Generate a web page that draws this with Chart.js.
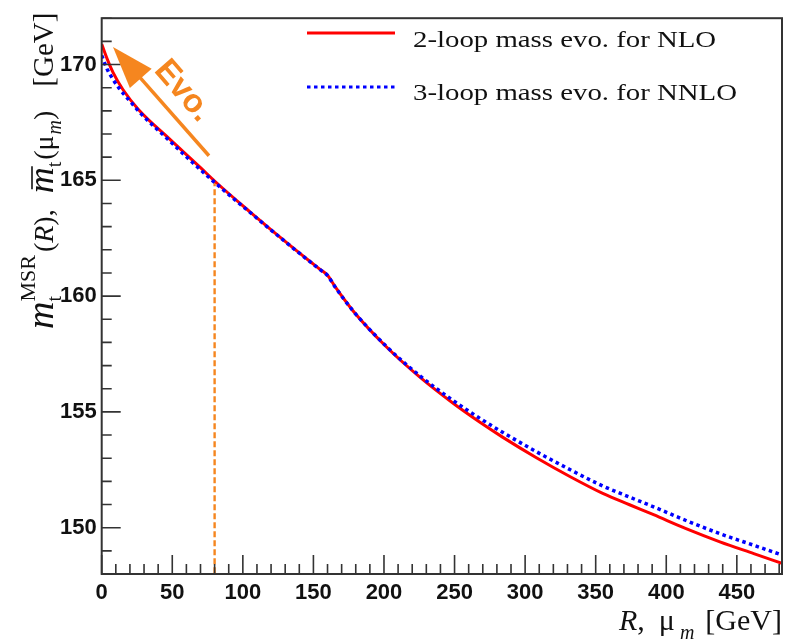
<!DOCTYPE html>
<html><head><meta charset="utf-8">
<script src="https://cdn.jsdelivr.net/npm/chart.js@4.4.1/dist/chart.umd.min.js"></script>
<style>html,body{margin:0;padding:0;background:#fff;} canvas{display:block;}</style>
</head><body>
<canvas id="c" width="788" height="644"></canvas>
<script>
// ---- data ----
const xNLO  = [0, 4, 8, 15, 26, 48, 70, 80, 105, 133, 150, 155, 160, 165, 178, 202, 225, 249, 268, 284, 308, 332, 355, 374, 391, 414, 438, 462, 482];
const yNLO  = [170.88, 170.22, 169.66, 168.92, 168.06, 166.79, 165.55, 164.97, 163.64, 162.21, 161.38, 161.14, 160.90, 160.44, 159.37, 157.79, 156.52, 155.37, 154.55, 153.91, 153.02, 152.20, 151.48, 150.99, 150.56, 149.96, 149.39, 148.88, 148.46];
const xNNLO = [0, 4, 8, 12, 21, 27, 48, 64, 80, 105, 133, 150, 155, 160, 165, 178, 202, 225, 249, 268, 284, 308, 332, 355, 374, 391, 414, 438, 462, 482];
const yNNLO = [170.39, 169.78, 169.36, 169.00, 168.35, 167.93, 166.71, 165.79, 164.91, 163.62, 162.20, 161.37, 161.13, 160.89, 160.43, 159.37, 157.81, 156.58, 155.49, 154.72, 154.12, 153.28, 152.50, 151.80, 151.32, 150.90, 150.31, 149.74, 149.24, 148.82];
const seriesLabels = ['2-loop mass evo. for NLO', '3-loop mass evo. for NNLO'];
const xTicks = [0, 50, 100, 150, 200, 250, 300, 350, 400, 450];
const yTicks = [150, 155, 160, 165, 170];
const xRange = [0, 482];
const yRange = [148, 172];
// annotation anchors (data units)
const markR = 80, markMass = 165;
const evoTail = [76, 166.06], evoTip = [8, 170.76], evoLabelAt = [57.5, 168.85];

const ORANGE = '#F5861F';
const RED = '#ff0000', BLUE = '#0000ff';

const overlay = {
  id: 'overlay',
  beforeDatasetsDraw(chart) {
    const {ctx, scales: {x, y}} = chart;
    ctx.save();
    ctx.strokeStyle = ORANGE; ctx.lineWidth = 2.4; ctx.setLineDash([6, 3]);
    ctx.beginPath();
    ctx.moveTo(x.getPixelForValue(markR), y.getPixelForValue(markMass));
    ctx.lineTo(x.getPixelForValue(markR), y.getPixelForValue(yRange[0]));
    ctx.stroke();
    ctx.restore();
  },
  afterDatasetsDraw(chart) {
    const {ctx, scales: {x, y}, chartArea: a} = chart;
    ctx.save();
    // frame
    ctx.strokeStyle = '#333'; ctx.lineWidth = 2;
    ctx.strokeRect(a.left, a.top, a.right - a.left, a.bottom - a.top);
    // ticks (inside)
    ctx.strokeStyle = '#333'; ctx.lineWidth = 1.6;
    ctx.beginPath();
    for (let v = xRange[0]; v <= xRange[1]; v += 10) {
      const px = x.getPixelForValue(v);
      const len = (v % 50 === 0) ? 19 : 10;
      ctx.moveTo(px, a.bottom); ctx.lineTo(px, a.bottom - len);
    }
    for (let v = yRange[0]; v <= yRange[1]; v += 1) {
      const py = y.getPixelForValue(v);
      const len = (v % 5 === 0) ? 19 : 10;
      ctx.moveTo(a.left, py); ctx.lineTo(a.left + len, py);
    }
    ctx.stroke();

    // Evo arrow
    const t0 = [x.getPixelForValue(evoTail[0]), y.getPixelForValue(evoTail[1])];
    const t1 = [x.getPixelForValue(evoTip[0]), y.getPixelForValue(evoTip[1])];
    const dx = t1[0] - t0[0], dy = t1[1] - t0[1], L = Math.hypot(dx, dy);
    const ux = dx / L, uy = dy / L, nx = -uy, ny = ux;
    const hl = 42, hw = 14.5;
    const bx = t1[0] - ux * hl, by = t1[1] - uy * hl;
    ctx.strokeStyle = ORANGE; ctx.fillStyle = ORANGE; ctx.lineWidth = 3.5; ctx.setLineDash([]);
    ctx.beginPath(); ctx.moveTo(t0[0], t0[1]); ctx.lineTo(bx + ux * 2, by + uy * 2); ctx.stroke();
    ctx.beginPath();
    ctx.moveTo(t1[0], t1[1]);
    ctx.lineTo(bx + nx * hw, by + ny * hw);
    ctx.lineTo(bx - nx * hw, by - ny * hw);
    ctx.closePath(); ctx.fill();
    // Evo. text
    ctx.save();
    ctx.translate(x.getPixelForValue(evoLabelAt[0]), y.getPixelForValue(evoLabelAt[1]));
    ctx.rotate(49 * Math.PI / 180);
    ctx.font = 'bold 33px "Liberation Sans", Arial, sans-serif';
    ctx.textAlign = 'center'; ctx.textBaseline = 'middle';
    ctx.fillText('Evo.', 0, 0);
    ctx.restore();
    ctx.restore();
  },
  afterDraw(chart) {
    const {ctx} = chart;
    const ds = chart.data.datasets;
    ctx.save();
    // legend
    const rows = [{y: 33, base: 47}, {y: 87, base: 100}];
    ds.forEach((d, i) => {
      ctx.strokeStyle = d.borderColor; ctx.lineWidth = 3;
      ctx.setLineDash(d.borderDash || []);
      ctx.beginPath(); ctx.moveTo(307, rows[i].y); ctx.lineTo(395, rows[i].y); ctx.stroke();
      ctx.setLineDash([]);
      ctx.fillStyle = '#111';
      ctx.font = '24px "Liberation Serif", "Times New Roman", serif';
      ctx.textBaseline = 'alphabetic'; ctx.textAlign = 'left';
      ctx.save();
      ctx.translate(413, rows[i].base);
      ctx.scale(1.2, 1);
      ctx.fillText(d.label, 0, 0);
      ctx.restore();
    });

    // rich text helper (u along baseline)
    function rich(pieces) {
      let u = 0;
      for (const p of pieces) {
        ctx.font = p.font;
        if (p.t) ctx.fillText(p.t, u, p.dv || 0);
        const w = p.w !== undefined ? p.w : ctx.measureText(p.t).width;
        if (p.bar) {
          ctx.lineWidth = 1.6;
          ctx.beginPath(); ctx.moveTo(u + 4, p.bar); ctx.lineTo(u + w + 1, p.bar); ctx.stroke();
        }
        u += w + (p.gap || 0);
      }
      return u;
    }
    const SER = '"Liberation Serif", "Times New Roman", serif';
    ctx.fillStyle = '#111'; ctx.strokeStyle = '#111';
    ctx.textAlign = 'left'; ctx.textBaseline = 'alphabetic';

    // y title, rotated
    ctx.save();
    ctx.translate(53, 329);
    ctx.rotate(-Math.PI / 2);
    rich([
      {t: 'm', font: 'italic 38px ' + SER, gap: 0},
      {t: 't', font: '20px ' + SER, dv: 8, w: 0},
      {t: 'MSR', font: '22px ' + SER, dv: -18, gap: 3},
      {t: '(', font: '28px ' + SER},
      {t: 'R', font: 'italic 28px ' + SER},
      {t: '),', font: '28px ' + SER, gap: 16},
      {t: 'm', font: 'italic 36px ' + SER, bar: -21},
      {t: 't', font: '20px ' + SER, dv: 8, gap: 2},
      {t: '(', font: '28px ' + SER},
      {t: 'μ', font: '28px ' + SER, gap: 1},
      {t: 'm', font: 'italic 20px ' + SER, dv: 8},
      {t: ')', font: '28px ' + SER, gap: 24},
      {t: '[GeV]', font: '29px ' + SER}
    ]);
    ctx.restore();

    // x title, right aligned
    ctx.save();
    const xp = [
      {t: 'R', font: 'italic 30px ' + SER},
      {t: ',', font: '30px ' + SER, gap: 14},
      {t: 'μ', font: '30px ' + SER, gap: 5},
      {t: 'm', font: 'italic 20px ' + SER, dv: 9, gap: 11},
      {t: '[GeV]', font: '30px ' + SER}
    ];
    let tw = 0;
    for (const p of xp) { ctx.font = p.font; tw += ctx.measureText(p.t).width + (p.gap || 0); }
    ctx.translate(782 - tw, 630);
    rich(xp);
    ctx.restore();
    ctx.restore();
  }
};

const tickFont = {family: '"Liberation Sans", Arial, sans-serif', weight: 'bold', size: 22};

new Chart(document.getElementById('c'), {
  type: 'line',
  data: {
    datasets: [
      {label: seriesLabels[0], data: xNLO.map((v, i) => ({x: v, y: yNLO[i]})),
       borderColor: RED, borderWidth: 3, pointRadius: 0, cubicInterpolationMode: 'monotone', order: 2, fill: false},
      {label: seriesLabels[1], data: xNNLO.map((v, i) => ({x: v, y: yNNLO[i]})),
       borderColor: BLUE, borderWidth: 3.5, borderDash: [3.5, 3.5], borderCapStyle: 'butt', pointRadius: 0,
       cubicInterpolationMode: 'monotone', order: 1, fill: false}
    ]
  },
  options: {
    responsive: false, animation: false, devicePixelRatio: 1,
    layout: {padding: {left: 0, top: 7, right: 6, bottom: 0}},
    plugins: {legend: {display: false}, tooltip: {enabled: false}},
    scales: {
      x: {type: 'linear', min: xRange[0], max: xRange[1],
          afterBuildTicks: s => { s.ticks = xTicks.map(v => ({value: v})); },
          afterFit: s => { s.height = 70; },
          grid: {display: false, drawTicks: false}, border: {display: false},
          ticks: {font: tickFont, color: '#111', padding: 6, maxRotation: 0, autoSkip: false}},
      y: {type: 'linear', min: yRange[0], max: yRange[1],
          afterBuildTicks: s => { s.ticks = yTicks.map(v => ({value: v})); },
          afterFit: s => { s.width = 101.7; },
          grid: {display: false, drawTicks: false}, border: {display: false},
          ticks: {font: tickFont, color: '#111', padding: 5, autoSkip: false}}
    }
  },
  plugins: [overlay]
});
</script>
</body></html>
